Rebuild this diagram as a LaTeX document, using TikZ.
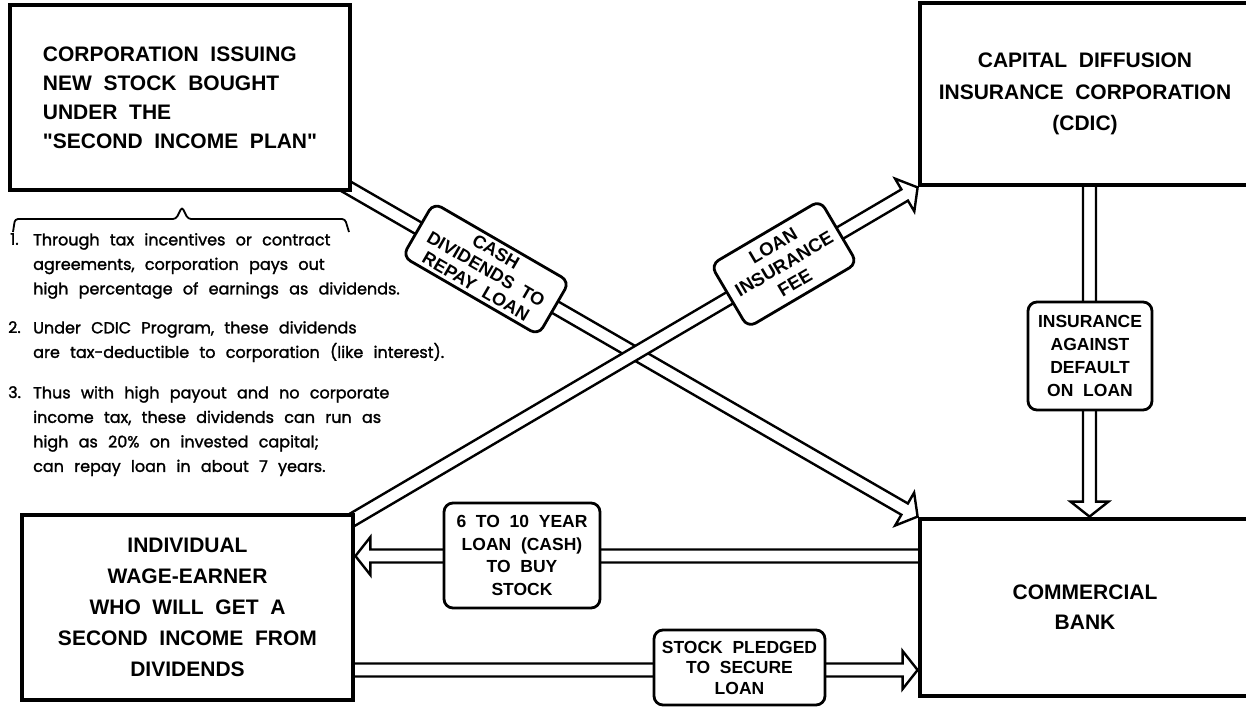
\documentclass[tikz,border=0pt]{standalone}
\usepackage{fontspec}
\setmainfont{Liberation Sans}[WordSpace=2, Ligatures=TeXOff]
\newfontfamily\notefont{Poppins}[WordSpace=2.4, FakeBold=1.6]
\usetikzlibrary{calc,backgrounds}
\newcommand\shaftw{6.5pt}
\newcommand\headlen{15pt}
\newcommand\headw{19pt}
\newcommand\hollowarrow[2]{%
  \coordinate (hb) at ($(#2)!\headlen!(#1)$);
  \filldraw[harrow] ($(#1)!\shaftw!90:(#2)$) -- ($(hb)!\shaftw!-90:(#1)$)
    -- ($(hb)!\headw!-90:(#1)$) -- (#2) -- ($(hb)!\headw!90:(#1)$)
    -- ($(hb)!\shaftw!90:(#1)$) -- ($(#1)!\shaftw!-90:(#2)$);
}
\tikzset{
  mainbox/.style={draw, line width=4.8pt, fill=white, inner sep=0pt, align=center},
  lbl/.style={draw, line width=2.8pt, fill=white, rounded corners=9pt, inner sep=0pt, align=center},
  harrow/.style={draw, fill=white, line width=2.4pt, line join=miter},
  note/.style={font=\notefont\fontsize{16}{24.5}\selectfont, inner sep=0pt, align=left},
}
\begin{document}
\begin{tikzpicture}[x=1pt,y=-1pt]
\useasboundingbox (0,0) rectangle (1246,707);
\clip (0,0) rectangle (1246,707);

% main boxes
\node[mainbox, minimum width=340pt, minimum height=185pt, align=left,
      font=\bfseries\fontsize{21}{29}\selectfont] (A) at (180,97.5)
  {CORPORATION ISSUING\\NEW STOCK BOUGHT\\UNDER THE\\"SECOND INCOME PLAN"};
\node[mainbox, minimum width=330pt, minimum height=182pt,
      font=\bfseries\fontsize{21}{31.5}\selectfont] (B) at (1085,94)
  {CAPITAL DIFFUSION\\INSURANCE CORPORATION\\(CDIC)};
\node[mainbox, minimum width=331pt, minimum height=185pt,
      font=\bfseries\fontsize{21}{31}\selectfont] (C) at (187.5,607.5)
  {INDIVIDUAL\\WAGE-EARNER\\WHO WILL GET A\\SECOND INCOME FROM\\DIVIDENDS};
\node[mainbox, minimum width=330pt, minimum height=177pt,
      font=\bfseries\fontsize{21}{30}\selectfont] (D) at (1085,607.5)
  {COMMERCIAL\\BANK};

% connectors (behind boxes)
\begin{scope}[on background layer]
  \coordinate (a1s) at (335,180);
  \coordinate (a1e) at (D.north west);
  \hollowarrow{a1s}{a1e}
  \coordinate (a2s) at (340,527);
  \coordinate (a2e) at (B.south west);
  \hollowarrow{a2s}{a2e}
  \coordinate (v1s) at ($(B.south)+(4.5,-6)$);
  \coordinate (v1e) at ($(D.north)+(4.5,0)$);
  \hollowarrow{v1s}{v1e}
  \coordinate (h1s) at (925,556);
  \coordinate (h1e) at (C.east |- h1s);
  \hollowarrow{h1s}{h1e}
  \coordinate (h2s) at (346,670);
  \coordinate (h2e) at (D.west |- h2s);
  \hollowarrow{h2s}{h2e}
\end{scope}

% labels on connectors
\node[lbl, minimum width=157pt, minimum height=62pt, rotate=-30.1,
      font=\bfseries\fontsize{18}{20}\selectfont] (L1) at (486,269)
  {CASH\\DIVIDENDS TO\\REPAY LOAN};
\node[lbl, minimum width=127pt, minimum height=73pt, rotate=30.5,
      font=\bfseries\fontsize{18.5}{21.5}\selectfont] (L2) at (784,264)
  {LOAN\\INSURANCE\\FEE};
\node[lbl, minimum width=124pt, minimum height=108pt,
      font=\bfseries\fontsize{17.5}{23}\selectfont] (L3) at (1090,356)
  {INSURANCE\\AGAINST\\DEFAULT\\ON LOAN};
\node[lbl, minimum width=156pt, minimum height=105pt,
      font=\bfseries\fontsize{17.5}{22.5}\selectfont] (L4) at (522,555.5)
  {6 TO 10 YEAR\\LOAN (CASH)\\TO BUY\\STOCK};
\node[lbl, minimum width=171pt, minimum height=75pt,
      font=\bfseries\fontsize{17.5}{20.5}\selectfont] (L5) at (739.5,667.5)
  {STOCK PLEDGED\\TO SECURE\\LOAN};

% brace under box A
\draw[line width=1.8pt, rounded corners=3pt] (13,232) -- (15,219) -- (176,219)
  -- (182,207) -- (188,219) -- (345,219) -- (349,232);

% notes
\node[note, anchor=north west] (k1) at (10,233) {1.};
\node[note, anchor=north west] (n1) at (33,233)
  {Through tax incentives or contract\\agreements, corporation pays out\\high percentage of earnings as dividends.};
\node[note, anchor=north west] (k2) at (8,321) {2.};
\node[note, anchor=north west] (n2) at (33,321)
  {Under CDIC Program, these dividends\\are tax-deductible to corporation (like interest).};
\node[note, anchor=north west] (k3) at (8,386) {3.};
\node[note, anchor=north west] (n3) at (33,386)
  {Thus with high payout and no corporate\\income tax, these dividends can run as\\high as 20\% on invested capital;\\can repay loan in about 7 years.};
\end{tikzpicture}
\end{document}
